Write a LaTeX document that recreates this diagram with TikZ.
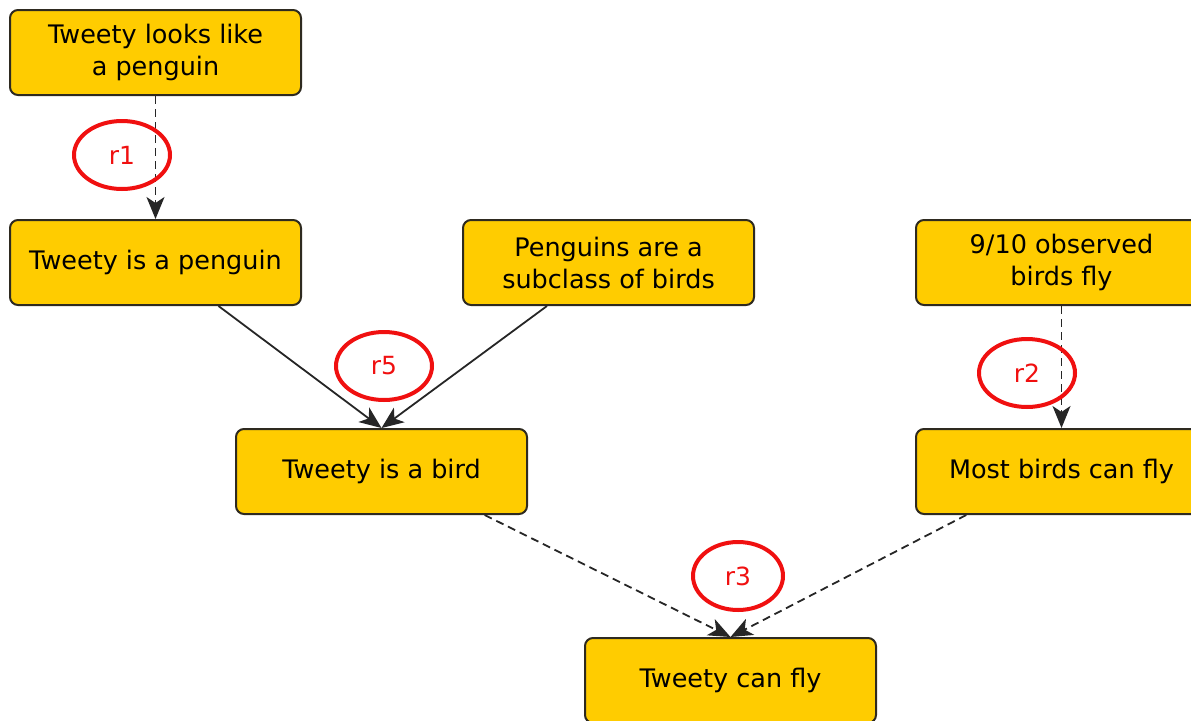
\documentclass[tikz,border=0pt]{standalone}
\usepackage{fontspec}
\setmainfont{DejaVu Sans}
\usetikzlibrary{arrows.meta,shapes.geometric,calc}
\definecolor{boxfill}{HTML}{FFCC00}
\definecolor{boxedge}{HTML}{2E2A20}
\definecolor{rulered}{HTML}{F01010}
\begin{document}
\begin{tikzpicture}[x=1pt,y=-1pt,
  claim/.style={draw=boxedge, line width=2pt, fill=boxfill, rounded corners=8pt,
    minimum width=291pt, minimum height=85pt, align=center, inner sep=0pt,
    font=\fontsize{25.5}{32}\selectfont},
  rulemark/.style={draw=rulered, line width=4pt, ellipse, minimum width=96pt,
    minimum height=68pt, inner sep=0pt, text=rulered, font=\fontsize{25}{28}\selectfont},
  strict/.style={draw=black!85, line width=1.8pt,
    -{Stealth[length=22pt,width=18pt,inset=6pt]}},
  defeasible/.style={strict, dash pattern=on 8pt off 5pt}]
\clip (0,0) rectangle (1191,720);
\useasboundingbox (0,0) rectangle (1191,720);

% claims
\node[claim] (looks)  at (155.5,52.5)  {Tweety looks like\\a penguin};
\node[claim] (peng)   at (155.5,262.5) {Tweety is a penguin};
\node[claim] (sub)    at (608.5,262.5) {Penguins are a\\subclass of birds};
\node[claim] (obs)    at (1061.5,262.5){9/10 observed\\birds fly};
\node[claim] (bird)   at (381.5,471.5) {Tweety is a bird};
\node[claim] (most)   at (1061.5,471.5){Most birds can fly};
\node[claim] (fly)    at (730.5,680.5) {Tweety can fly};

% inferences
\draw[defeasible] (looks.south) -- (peng.north);
\draw[strict] ($(peng.south west)!0.715!(peng.south east)$) -- (bird.north);
\draw[strict] ($(sub.south west)!0.29!(sub.south east)$) -- (bird.north);
\draw[defeasible] (obs.south) -- (most.north);
\draw[defeasible] ($(bird.south west)!0.852!(bird.south east)$) -- (fly.north);
\draw[defeasible] ($(most.south west)!0.175!(most.south east)$) -- (fly.north);

% rule labels
\node[rulemark] (r1) at (122,155) {r1};
\node[rulemark] (r5) at (384,366) {r5};
\node[rulemark] (r2) at (1027,373) {r2};
\node[rulemark, minimum width=90pt] (r3) at (738,576) {r3};
\end{tikzpicture}
\end{document}
